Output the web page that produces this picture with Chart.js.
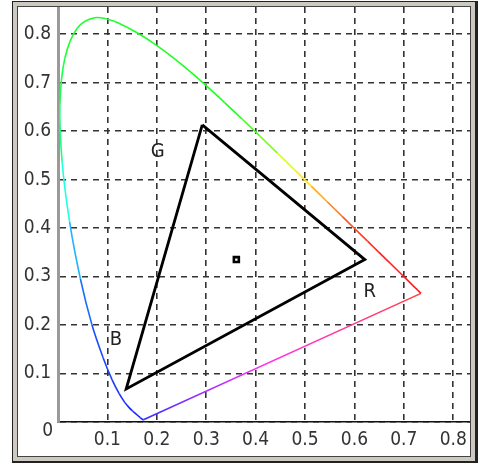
<!DOCTYPE html>
<html>
<head>
<meta charset="utf-8">
<script src="https://cdn.jsdelivr.net/npm/chart.js@4"></script>
<style>
  body { margin: 0; background: #fff; }
  #wrap { position: relative; width: 481px; height: 468px; }
  #frame {
    position: absolute; left: 12px; top: 1px; width: 462px; height: 459px;
    border: 1px solid #222; border-right-width: 3px; border-bottom-width: 2px;
    box-shadow: inset 0 0 0 4px #cdc9c1, inset 0 0 0 5px #444;
    pointer-events: none;
  }
</style>
</head>
<body>
<div id="wrap">
  <canvas id="cie" width="481" height="468"></canvas>
  <div id="frame"></div>
</div>
<script>
// CIE 1931 spectral locus, 380-700 nm in 5 nm steps
var wavelengths = [380,385,390,395,400,405,410,415,420,425,430,435,440,445,450,455,460,465,470,475,
  480,485,490,495,500,505,510,515,520,525,530,535,540,545,550,555,560,565,570,575,
  580,585,590,595,600,605,610,615,620,625,630,635,640,645,650,655,660,665,670,675,
  680,685,690,695,700];
var locusX = [0.1741,0.1740,0.1738,0.1736,0.1733,0.1730,0.1726,0.1721,0.1714,0.1703,0.1689,0.1669,0.1644,0.1611,0.1566,0.1510,0.1440,0.1355,0.1241,0.1096,
  0.0913,0.0687,0.0454,0.0235,0.0082,0.0039,0.0139,0.0389,0.0743,0.1142,0.1547,0.1929,0.2296,0.2658,0.3016,0.3373,0.3731,0.4087,0.4441,0.4788,
  0.5125,0.5448,0.5752,0.6029,0.6270,0.6482,0.6658,0.6801,0.6915,0.7006,0.7079,0.7140,0.7190,0.7230,0.7260,0.7283,0.7300,0.7311,0.7320,0.7327,
  0.7334,0.7340,0.7344,0.7346,0.7347];
var locusY = [0.0050,0.0050,0.0049,0.0049,0.0048,0.0048,0.0048,0.0048,0.0051,0.0058,0.0069,0.0086,0.0109,0.0138,0.0177,0.0227,0.0297,0.0399,0.0578,0.0868,
  0.1327,0.2007,0.2950,0.4127,0.5384,0.6548,0.7502,0.8120,0.8338,0.8262,0.8059,0.7816,0.7543,0.7243,0.6923,0.6589,0.6245,0.5896,0.5547,0.5202,
  0.4866,0.4544,0.4242,0.3965,0.3725,0.3514,0.3340,0.3197,0.3083,0.2993,0.2920,0.2859,0.2809,0.2770,0.2740,0.2717,0.2700,0.2689,0.2680,0.2673,
  0.2666,0.2660,0.2656,0.2654,0.2653];

// display primaries (G, R, B) and white point
var primaryNames = ['G', 'R', 'B'];
var primaryX = [0.292, 0.621, 0.138];
var primaryY = [0.613, 0.335, 0.068];
var whiteX = [0.361];
var whiteY = [0.335];

// where the primary letters sit
var labelX = [0.202, 0.631, 0.117];
var labelY = [0.557, 0.268, 0.169];

var xTicks = [0, 0.1, 0.2, 0.3, 0.4, 0.5, 0.6, 0.7, 0.8];
var yTicks = [0, 0.1, 0.2, 0.3, 0.4, 0.5, 0.6, 0.7, 0.8];

var FONT = "'Liberation Sans Narrow', 'DejaVu Sans Condensed', 'Liberation Sans', sans-serif";

// rough hue for each wavelength
var hueStops = [[380,240],[460,236],[480,226],[485,218],[490,200],[495,172],[500,145],[508,125],[556,120],[565,95],[572,62],[580,38],[592,10],[604,0],[700,0]];
function hueAt(nm) {
  for (var i = 1; i < hueStops.length; i++) {
    if (nm <= hueStops[i][0]) {
      var a = hueStops[i-1], b = hueStops[i];
      return a[1] + (b[1] - a[1]) * (nm - a[0]) / (b[0] - a[0]);
    }
  }
  return 0;
}
function locusColor(nm) {
  var h = hueAt(nm);
  var l = h > 200 ? 55 : 56;
  return 'hsl(' + h.toFixed(0) + ',100%,' + l + '%)';
}

function pts(xs, ys) {
  return xs.map(function (x, i) { return { x: x, y: ys[i] }; });
}

var locusPts = pts(locusX, locusY);
var purplePts = [locusPts[locusPts.length - 1], locusPts[0]];
var triPts = pts(primaryX, primaryY);
triPts.push(triPts[0]);

// letters G / R / B and the lone "0" at the origin
var textPlugin = {
  id: 'cieText',
  afterDatasetsDraw: function (chart) {
    var ctx = chart.ctx, sx = chart.scales.x, sy = chart.scales.y;
    ctx.save();
    ctx.fillStyle = '#222';
    ctx.font = '20px ' + FONT;
    ctx.textAlign = 'center';
    ctx.textBaseline = 'middle';
    primaryNames.forEach(function (n, i) {
      ctx.fillText(n, sx.getPixelForValue(labelX[i]), sy.getPixelForValue(labelY[i]));
    });
    ctx.font = '19px ' + FONT;
    ctx.fillStyle = '#333';
    ctx.textAlign = 'right';
    ctx.fillText('0', chart.chartArea.left - 5, chart.chartArea.bottom + 9);
    ctx.restore();
  }
};

new Chart(document.getElementById('cie'), {
  type: 'scatter',
  data: {
    datasets: [
      {
        label: 'locus',
        data: locusPts,
        showLine: true,
        tension: 0.35,
        pointRadius: 0,
        borderWidth: 1.6,
        segment: {
          borderColor: function (c) { return locusColor(wavelengths[c.p0DataIndex]); }
        }
      },
      {
        label: 'purple line',
        data: purplePts,
        showLine: true,
        pointRadius: 0,
        borderWidth: 1.6,
        borderColor: function (c) {
          var chart = c.chart;
          if (!chart.chartArea) return '#f0f';
          var sx = chart.scales.x, sy = chart.scales.y;
          var g = chart.ctx.createLinearGradient(
            sx.getPixelForValue(purplePts[1].x), sy.getPixelForValue(purplePts[1].y),
            sx.getPixelForValue(purplePts[0].x), sy.getPixelForValue(purplePts[0].y));
          g.addColorStop(0, '#3a2cff');
          g.addColorStop(0.2, '#9a30ff');
          g.addColorStop(0.42, '#ff30f0');
          g.addColorStop(0.7, '#ff3aa0');
          g.addColorStop(1, '#ff4040');
          return g;
        }
      },
      {
        label: 'gamut',
        data: triPts,
        showLine: true,
        pointRadius: 0,
        borderColor: '#000',
        borderWidth: 2.8
      },
      {
        label: 'white',
        data: pts(whiteX, whiteY),
        pointStyle: 'rect',
        pointRadius: 3.5,
        backgroundColor: '#fff',
        borderColor: '#000',
        borderWidth: 2.6
      }
    ]
  },
  options: {
    responsive: false,
    animation: false,
    layout: { padding: { top: 7, right: 8, left: 0, bottom: 0 } },
    plugins: { legend: { display: false }, tooltip: { enabled: false } },
    scales: {
      x: {
        type: 'linear',
        min: 0,
        max: 0.84,
        afterFit: function (s) { s.height = 46; s.paddingLeft = 0; s.paddingRight = 0; },
        afterBuildTicks: function (s) { s.ticks = xTicks.map(function (v) { return { value: v }; }); },
        grid: { color: '#333', lineWidth: 1.6, drawTicks: false },
        border: { display: true, color: '#111', width: 1.5, dash: [6, 5] },
        ticks: {
          padding: 7,
          color: '#333',
          font: { family: FONT, size: 19 },
          maxRotation: 0,
          callback: function (v) { return v === 0 ? '' : v.toFixed(1); }
        }
      },
      y: {
        type: 'linear',
        min: 0,
        max: 0.856,
        afterFit: function (s) { s.width = 58; s.paddingTop = 0; s.paddingBottom = 0; },
        afterBuildTicks: function (s) { s.ticks = yTicks.map(function (v) { return { value: v }; }); },
        grid: { color: '#333', lineWidth: 1.6, drawTicks: false },
        border: { display: true, color: '#9a9a9a', width: 3, dash: [6, 5] },
        ticks: {
          padding: 7,
          color: '#333',
          font: { family: FONT, size: 19 },
          callback: function (v) { return v === 0 ? '' : v.toFixed(1); }
        }
      }
    }
  },
  plugins: [textPlugin]
});
</script>
</body>
</html>
